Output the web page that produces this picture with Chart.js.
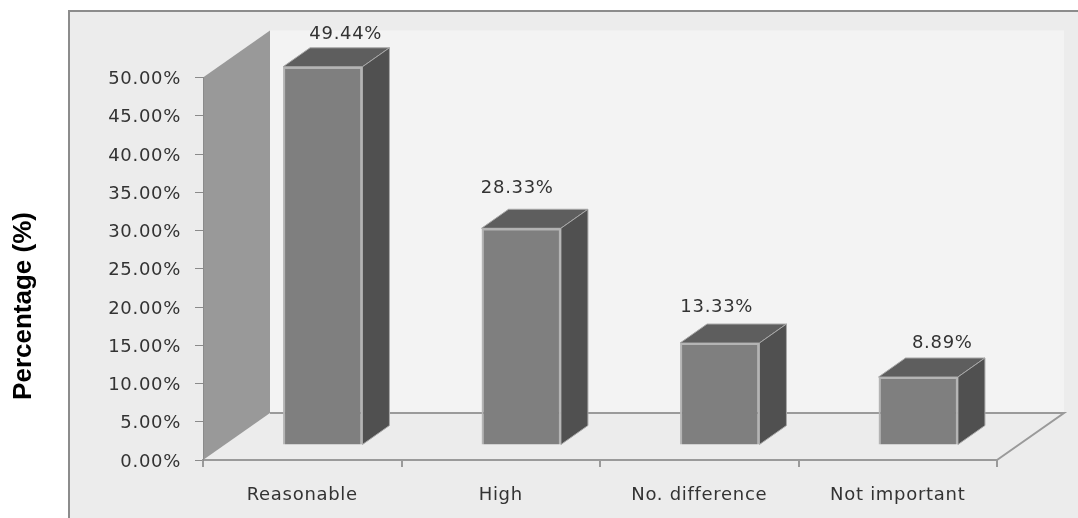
<!DOCTYPE html>
<html>
<head>
<meta charset="utf-8">
<title>Percentage chart</title>
<script src="https://cdn.jsdelivr.net/npm/chart.js@4"></script>
<style>
    html, body { margin: 0; padding: 0; background: #fff; overflow: hidden; }
    canvas { display: block; }
</style>
</head>
<body>
<canvas id="percentChart" width="1078" height="518"></canvas>
<script>
/* ================= DATA ================= */
const categories = ['Reasonable', 'High', 'No. difference', 'Not important'];
const percentValues = [49.44, 28.33, 13.33, 8.89];
const yTickValues = [0, 5, 10, 15, 20, 25, 30, 35, 40, 45, 50];
const axisTitle = 'Percentage (%)';

/* ================= 3D LOOK ================= */
const WALL_DX = 67, WALL_DY = -47;      // depth of the chart box
const BAR_DX = 27, BAR_DY = -19;        // depth of each column
const FRONT_DX = 20.5, FRONT_DY = -15;  // columns stand in the middle of the floor
const labelNudge = [[23, -32], [-4, -40], [-3, -36], [24, -34]];
const TEXT_COLOR = '#333333';
const TEXT_FONT = '"DejaVu Sans", sans-serif';

function fillPoly(ctx, points, fill, stroke, lineWidth) {
    ctx.beginPath();
    points.forEach((p, i) => i ? ctx.lineTo(p[0], p[1]) : ctx.moveTo(p[0], p[1]));
    ctx.closePath();
    if (fill) { ctx.fillStyle = fill; ctx.fill(); }
    if (stroke) { ctx.strokeStyle = stroke; ctx.lineWidth = lineWidth; ctx.stroke(); }
}

const boxPlugin = {
    id: 'box3d',
    beforeDraw(chart) {
        const ctx = chart.ctx;
        const { left, right, top, bottom } = chart.chartArea;
        ctx.letterSpacing = '0.7px';

        // outer panel, its frame runs off the right and bottom edges
        ctx.save();
        ctx.fillStyle = '#ececec';
        ctx.fillRect(69, 11, chart.width - 69, chart.height - 11);
        ctx.fillStyle = '#8c8c8c';
        ctx.fillRect(68, 10, chart.width - 68, 2);
        ctx.fillRect(68, 10, 2, chart.height - 10);

        // back wall
        ctx.fillStyle = '#f3f3f3';
        ctx.fillRect(left + WALL_DX, top + WALL_DY, right - left, bottom - top);

        // floor
        fillPoly(ctx, [
            [left, bottom], [right, bottom],
            [right + WALL_DX, bottom + WALL_DY], [left + WALL_DX, bottom + WALL_DY]
        ], '#ececec');
        ctx.strokeStyle = '#9a9a9a';
        ctx.lineWidth = 2;
        ctx.beginPath();
        ctx.moveTo(left + WALL_DX, bottom + WALL_DY);
        ctx.lineTo(right + WALL_DX, bottom + WALL_DY);
        ctx.lineTo(right, bottom);
        ctx.stroke();

        // left wall
        fillPoly(ctx, [
            [left, bottom], [left, top],
            [left + WALL_DX, top + WALL_DY], [left + WALL_DX, bottom + WALL_DY]
        ], '#999999');

        // axis title sits below the middle of the axis, so it is placed by hand
        ctx.translate(31, 306);
        ctx.rotate(-Math.PI / 2);
        ctx.letterSpacing = '0px';
        ctx.font = 'bold 26px "Liberation Sans", Arial, sans-serif';
        ctx.fillStyle = '#000';
        ctx.textAlign = 'center';
        ctx.textBaseline = 'alphabetic';
        ctx.fillText(axisTitle, 0, 0);
        ctx.restore();
    },
    beforeDatasetDraw(chart, args) {
        const ctx = chart.ctx;
        ctx.save();
        ctx.translate(FRONT_DX, FRONT_DY);
        args.meta.data.forEach(bar => {
            const { x, y, base, width } = bar.getProps(['x', 'y', 'base', 'width'], true);
            const l = x - width / 2, r = x + width / 2;
            fillPoly(ctx, [
                [l, y], [r, y], [r + BAR_DX, y + BAR_DY], [l + BAR_DX, y + BAR_DY]
            ], '#5e5e5e', '#a8a8a8', 1);
            fillPoly(ctx, [
                [r, y], [r + BAR_DX, y + BAR_DY], [r + BAR_DX, base + BAR_DY], [r, base]
            ], '#505050', '#a8a8a8', 1);
        });
    },
    afterDatasetDraw(chart, args) {
        const ctx = chart.ctx;
        ctx.restore();

        // value labels over the columns
        ctx.save();
        ctx.font = '18px ' + TEXT_FONT;
        ctx.fillStyle = TEXT_COLOR;
        ctx.textAlign = 'center';
        ctx.textBaseline = 'middle';
        args.meta.data.forEach((bar, i) => {
            const { x, y } = bar.getProps(['x', 'y'], true);
            ctx.fillText(percentValues[i].toFixed(2) + '%',
                x + FRONT_DX + labelNudge[i][0], y + FRONT_DY + labelNudge[i][1]);
        });
        ctx.restore();
    }
};

/* ================= CHART ================= */
new Chart(document.getElementById('percentChart'), {
    type: 'bar',
    data: {
        labels: categories,
        datasets: [{
            data: percentValues,
            backgroundColor: '#7f7f7f',
            borderColor: '#b4b4b4',
            borderWidth: 2,
            barPercentage: 0.4,
            categoryPercentage: 1,
            clip: false
        }]
    },
    options: {
        responsive: false,
        animation: false,
        layout: { padding: { top: 77.5, right: 81, bottom: 0, left: 0 } },
        plugins: {
            legend: { display: false },
            tooltip: { enabled: false }
        },
        scales: {
            x: {
                afterFit(scale) { scale.height = 58; },
                border: { color: '#9a9a9a', width: 2 },
                grid: {
                    offset: true,
                    drawOnChartArea: false,
                    color: '#9a9a9a',
                    lineWidth: 2,
                    tickLength: 7
                },
                ticks: {
                    color: TEXT_COLOR,
                    font: { family: TEXT_FONT, size: 18 },
                    padding: 18,
                    maxRotation: 0
                }
            },
            y: {
                min: 0,
                max: 50,
                afterFit(scale) { scale.width = 203; },
                afterBuildTicks(scale) {
                    scale.ticks = yTickValues.map(value => ({ value }));
                },
                border: { color: '#8a8a8a', width: 1 },
                grid: {
                    drawOnChartArea: false,
                    color: '#8a8a8a',
                    lineWidth: 1,
                    tickLength: 8
                },
                ticks: {
                    color: TEXT_COLOR,
                    font: { family: TEXT_FONT, size: 18 },
                    padding: 14,
                    labelOffset: 2,
                    callback: value => value.toFixed(2) + '%'
                }
            }
        }
    },
    plugins: [boxPlugin]
});
</script>
</body>
</html>
